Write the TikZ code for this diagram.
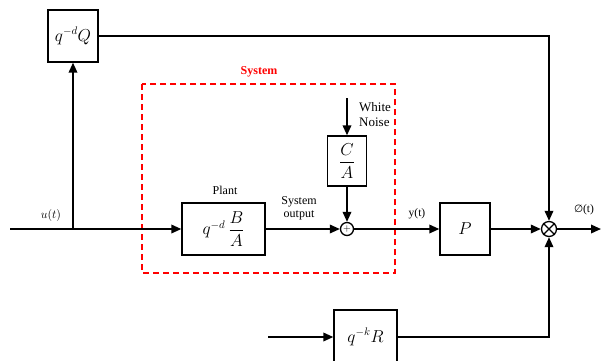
\documentclass[tikz,border=0pt]{standalone}
\usepackage{amsmath}
\usepackage{fontspec}
\setmainfont{Liberation Serif}
\newfontfamily\symfont{DejaVu Sans}
\usetikzlibrary{arrows.meta}
\begin{document}
\begin{tikzpicture}[x=1pt,y=-1pt,
  blk/.style={draw, line width=1.3pt, inner sep=0pt, font=\fontsize{16}{18}\selectfont},
  con/.style={line width=1.8pt},
  arr/.style={con, -{Triangle[length=10pt,width=8.5pt]}},
  lbl/.style={font=\fontsize{12}{13}\selectfont, inner sep=0pt}]
\useasboundingbox (0,0) rectangle (601,360);
\clip (0,0) rectangle (601,360);
% blocks
\node[blk, minimum width=50pt, minimum height=52pt] (Q) at (73,36) {$q^{-d}Q$};
\node[blk, minimum width=83pt, minimum height=52pt] (G) at (223.5,229) {$q^{-d}\,\dfrac{B}{A}$};
\node[blk, minimum width=39pt, minimum height=50pt] (C) at (347,161) {$\dfrac{C}{A}$};
\node[blk, minimum width=50pt, minimum height=52pt] (P) at (465,229) {$P$};
\node[blk, minimum width=63pt, minimum height=54pt] (R) at (365.5,337) {$q^{-k}R$};
\node[draw, line width=1.3pt, circle, minimum size=13pt, inner sep=0pt] (S) at (347,229) {};
\node[font=\fontsize{10}{10}\selectfont] at (S) {$+$};
\node[draw, line width=1.3pt, circle, minimum size=15pt, inner sep=0pt] (X) at (549,229) {};
\draw[line width=1.1pt] (X.north west) -- (X.south east) (X.north east) -- (X.south west);
% system frame
\draw[red, line width=1.3pt, dash pattern=on 6pt off 4pt] (142,84) rectangle (395,273);
\node[lbl, red, font=\fontsize{12}{13}\selectfont\bfseries] (sys) at (259,72) {System};
% coordinates
\coordinate (in) at (10,229);
\coordinate (br) at (73,229);
\coordinate (wn) at (347,98);
\coordinate (out) at (601,229);
\coordinate (rin) at (268,337);
% connectors
\draw[arr] (in) -- (G.west);
\draw[arr] (br) -- (Q.south);
\draw[arr] (Q.east) -| (X.north);
\draw[arr] (G.east) -- (S.west);
\draw[arr] (wn) -- (C.north);
\draw[arr] (C.south) -- (S.north);
\draw[arr] (S.east) -- (P.west);
\draw[arr] (P.east) -- (X.west);
\draw[arr] (X.east) -- (out);
\draw[arr] (rin) -- (R.west);
\draw[arr] (R.east) -| (X.south);
% labels
\node[lbl, font=\fontsize{13}{14}\selectfont] (ut) at (51,215) {$u(t)$};
\node[lbl] (plant) at (225,190) {Plant};
\node[lbl, align=center] (so) at (299,208) {System\\output};
\node[lbl, align=left, anchor=west, font=\fontsize{13}{15}\selectfont] (wnl) at (359,115) {White\\Noise};
\node[lbl, font=\fontsize{11.5}{12}\selectfont] (yt) at (417,214) {y(t)};
\node[lbl, font=\fontsize{11.5}{12}\selectfont] (phi) at (584,210) {{\symfont\fontsize{10.5}{11}\selectfont ∅}(t)};
\end{tikzpicture}
\end{document}
